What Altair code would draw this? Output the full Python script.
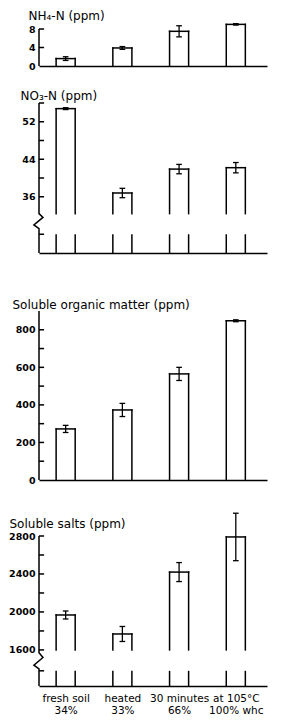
import altair as alt
import pandas as pd

# ---------------- data ----------------
positions = [0, 1, 2, 3]
treatment_labels = ["fresh soil", "heated", "30 minutes", "at 105°C"]
whc_labels = ["34%", "33%", "66%", "100% whc"]

nh4_mean = [1.6, 3.9, 7.5, 9.0]
nh4_err = [0.4, 0.3, 1.2, 0.15]
no3_mean = [54.8, 36.8, 41.9, 42.2]
no3_err = [0.2, 1.0, 1.0, 1.1]
som_mean = [272, 373, 565, 848]
som_err = [19, 35, 35, 5]
salts_mean = [1968, 1768, 2420, 2790]
salts_err = [42, 79, 100, 250]

# axis ranges, tick values and labelled values
nh4_range = [0, 8]
nh4_ticks = [4, 8]
nh4_labels = [0, 4, 8]

no3_range = [24, 56]
no3_ticks = [28, 36, 40, 44, 48, 52, 56]
no3_labels = [36, 44, 52]
no3_base = 32.4            # where the upper part of the bars starts
no3_break = [32.4, 31.6, 30.0, 29.2]   # axis break (zig-zag) values
no3_stub = 28              # top of the lower stubs

som_range = [0, 900]
som_ticks = [100, 200, 300, 400, 500, 600, 700, 800]
som_labels = [0, 200, 400, 600, 800]

salts_range = [1220, 2800]
salts_ticks = [1380, 1600, 1800, 2000, 2200, 2400, 2600, 2800]
salts_labels = [1600, 2000, 2400, 2800]
salts_base = 1600
salts_break = [1570, 1520, 1440, 1400]
salts_stub = 1380

# ---------------- styling ----------------
XMIN, XMAX = -0.47, 3.55
HALF = 0.168      # half bar width (x units)
CAP = 0.05        # half error-cap width
TICK = 0.09       # inward tick length
ZIG = [0, 0.07, -0.09, 0]   # zig-zag horizontal offsets
FONT = "DejaVu Sans"
LW = 1.5
W = 228


def panel(title, mean, err, yrange, height, extra, ticks, labels, base,
          brk, stub_top, title_x, title_y, last=False):
    df = pd.DataFrame({"pos": positions, "mean": mean, "err": err})
    df["lo"] = df["mean"] - df["err"]
    df["hi"] = df["mean"] + df["err"]
    df["left"] = df["pos"] - HALF
    df["right"] = df["pos"] + HALF
    df["cl"] = df["pos"] - CAP
    df["cr"] = df["pos"] + CAP
    df["base"] = base
    df["floor"] = yrange[0]
    df["stub"] = stub_top if stub_top is not None else yrange[0]

    # y-axis line (with optional break)
    ax_x = [XMIN]
    ax_y = [yrange[1]]
    if brk is not None:
        for dx, v in zip(ZIG, brk):
            ax_x.append(XMIN + dx)
            ax_y.append(v)
    ax_x.append(XMIN)
    ax_y.append(yrange[0])
    axis_df = pd.DataFrame({"ax": ax_x, "ay": ax_y, "o": list(range(len(ax_x)))})

    tick_df = pd.DataFrame({"t": ticks})
    tick_df["x0"] = XMIN
    tick_df["x1"] = XMIN + TICK

    # empty room above the axis top (for the gap between panels)
    top = yrange[1] + extra * (yrange[1] - yrange[0]) / height
    xs = alt.Scale(domain=[XMIN, XMAX], nice=False, zero=False)
    ys = alt.Scale(domain=[yrange[0], top], nice=False, zero=False)

    if last:
        arr = "[" + ",".join("['%s','%s']" % (a, b)
                             for a, b in zip(treatment_labels, whc_labels)) + "]"
        xaxis = alt.Axis(values=positions, ticks=False, domain=True,
                         domainColor="black", domainWidth=LW, grid=False,
                         title=None, labels=True,
                         labelExpr=arr + "[round(datum.value)]",
                         labelFont=FONT, labelFontSize=10.5, labelColor="black",
                         labelPadding=7, labelLineHeight=12,
                         labelOverlap=False, labelBaseline="top")
    else:
        xaxis = alt.Axis(values=positions, ticks=False, domain=True,
                         domainColor="black", domainWidth=LW, grid=False,
                         title=None, labels=False)

    yaxis = alt.Axis(values=labels, format="d", ticks=False, tickSize=0,
                     domain=False, grid=False, labelFont=FONT,
                     labelFontSize=9.5, labelFontWeight="bold",
                     labelColor="black", labelPadding=4, title=title,
                     titleAngle=0, titleAlign="left",
                     titleBaseline="alphabetic", titleX=title_x,
                     titleY=extra + title_y, titleFont=FONT,
                     titleFontSize=12, titleFontWeight="normal",
                     titleColor="black", minExtent=29, maxExtent=29)

    def X(f):
        return alt.X(f, type="quantitative", scale=xs, axis=xaxis)

    def Y(f):
        return alt.Y(f, type="quantitative", scale=ys, axis=yaxis)

    rule = dict(color="black", strokeWidth=LW, strokeCap="square")

    layers = [
        alt.Chart(axis_df).mark_line(color="black", strokeWidth=LW).encode(
            x=X("ax"), y=Y("ay"), order="o:Q"),
        alt.Chart(tick_df).mark_rule(color="black", strokeWidth=LW).encode(
            x=X("x0"), x2="x1", y=Y("t")),
        alt.Chart(df).mark_rule(**rule).encode(x=X("left"), y=Y("base"), y2="mean"),
        alt.Chart(df).mark_rule(**rule).encode(x=X("right"), y=Y("base"), y2="mean"),
        alt.Chart(df).mark_rule(**rule).encode(x=X("left"), x2="right", y=Y("mean")),
    ]
    if stub_top is not None:
        layers += [
            alt.Chart(df).mark_rule(color="black", strokeWidth=LW).encode(
                x=X("left"), y=Y("floor"), y2="stub"),
            alt.Chart(df).mark_rule(color="black", strokeWidth=LW).encode(
                x=X("right"), y=Y("floor"), y2="stub"),
        ]
    layers += [
        alt.Chart(df).mark_rule(color="black", strokeWidth=1.3).encode(
            x=X("pos"), y=Y("lo"), y2="hi"),
        alt.Chart(df).mark_rule(color="black", strokeWidth=1.3).encode(
            x=X("cl"), x2="cr", y=Y("lo")),
        alt.Chart(df).mark_rule(color="black", strokeWidth=1.3).encode(
            x=X("cl"), x2="cr", y=Y("hi")),
    ]
    return alt.layer(*layers).properties(width=W, height=height + extra)


p1 = panel("NH₄-N (ppm)", nh4_mean, nh4_err, nh4_range, 37, 0, nh4_ticks,
           nh4_labels, 0, None, None, -11, -10)
p2 = panel("NO₃-N (ppm)", no3_mean, no3_err, no3_range, 150, 37, no3_ticks,
           no3_labels, no3_base, no3_break, no3_stub, -19, -4)
p3 = panel("Soluble organic matter (ppm)", som_mean, som_err, som_range, 169,
           58, som_ticks, som_labels, 0, None, None, -27, -3)
p4 = panel("Soluble salts (ppm)", salts_mean, salts_err, salts_range, 150, 56,
           salts_ticks, salts_labels, salts_base, salts_break, salts_stub,
           -30, -9, last=True)

chart = (
    alt.vconcat(p1, p2, p3, p4, spacing=0, bounds="flush")
    .properties(padding=0, background="white")
    .configure_view(stroke="transparent")
)

chart.save("out.html", embed_options={"renderer": "svg", "actions": False})
